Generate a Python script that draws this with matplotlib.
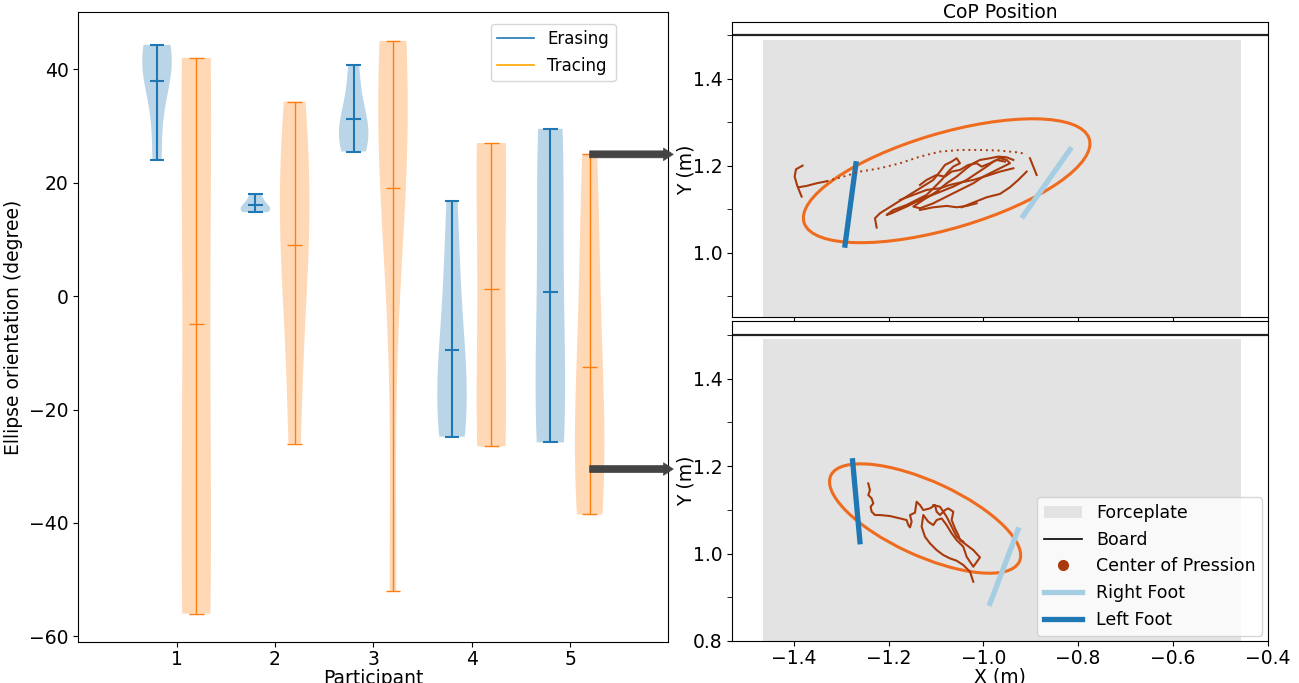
import matplotlib
matplotlib.use("Agg")
import matplotlib.pyplot as plt
from matplotlib.patches import Ellipse, Rectangle, Patch
from matplotlib.lines import Line2D

# ---------------- data: left panel (ellipse orientation per trial) ----------------
participants = [1, 2, 3, 4, 5]
erasing = [
    [24.0, 37.0, 41.0, 43.0, 44.3],
    [14.8, 15.2, 15.5, 16.5, 18.0],
    [25.5, 27.5, 29.5, 33.0, 40.8],
    [-24.8, -22.0, -18.0, -10.0, 1.1, 16.7],
    [-25.8, -24.0, -3.0, 26.8, 29.5],
]
tracing = [
    [-56.0, -48.0, 42.0, 42.0],
    [-26.0, 2.0, 12.0, 22.7, 34.3],
    [-52.0, 18.0, 30.0, 38.0, 45.0, 35.0],
    [-26.5, -22.7, 27.0, 27.0],
    [-38.5, -30.0, -22.0, 3.0, 25.0],
]
arrow_values = [25.0, -30.5]   # orientations of the two examples shown on the right

# ---------------- data: right panels (CoP, metres) ----------------
forceplate_x = [-1.465, -0.457]
forceplate_y = [0.49, 1.49]
board_y = 1.5

# top example
top_ellipse = dict(cx=-1.0775, cy=1.166, w=0.632, h=0.218, angle=18.0)
top_left_foot_x = [-1.292, -1.269]
top_left_foot_y = [1.018, 1.205]
top_right_foot_x = [-0.916, -0.817]
top_right_foot_y = [1.085, 1.238]
top_hook_x = [-1.3815, -1.3955, -1.3983, -1.3927, -1.3836]
top_hook_y = [1.2008, 1.1924, 1.1755, 1.1541, 1.1296]
top_foot_x = [-1.3906, -1.373, -1.3519, -1.3308]
top_foot_y = [1.1510, 1.1541, 1.1602, 1.1648]
top_fast_x = [-1.3308, -1.2956, -1.2605, -1.2182, -1.1760, -1.1338, -1.0916, -1.0494,
              -1.0072, -0.9650, -0.9298, -0.9087]
top_fast_y = [1.1648, 1.1755, 1.1870, 1.1947, 1.2062, 1.2215, 1.2330, 1.2368,
              1.2368, 1.2353, 1.2314, 1.2276]
top_stroke_x = [-0.9017, -0.8961, -0.8904, -0.8876]
top_stroke_y = [1.2177, 1.2023, 1.1870, 1.1793]
top_main_x = [-1.2253, -1.2288, -1.2182, -1.1901, -1.1620, -1.1338, -1.1057, -1.0916,
              -1.0811, -1.0670, -1.0564, -1.0494, -1.0635, -1.0740, -1.0881, -1.1057,
              -1.1198, -1.1409, -1.1620, -1.1901, -1.2042, -1.1936, -1.1620, -1.1338,
              -1.0987, -1.0635, -1.0353, -1.0142, -0.9931, -0.9791, -0.9650, -0.9509,
              -0.9439, -0.9579, -0.9791, -1.0002, -1.0213, -1.0494, -1.0775, -1.1057,
              -1.1338, -1.1479, -1.1268, -1.0987, -1.0775, -1.0564, -1.0353, -1.0213,
              -1.0072, -0.9861, -0.9685, -0.9509, -0.9368]
top_main_y = [1.0583, 1.0798, 1.0913, 1.1104, 1.1296, 1.1487, 1.1679, 1.1870,
              1.2023, 1.2100, 1.2177, 1.2062, 1.1985, 1.1870, 1.1679, 1.1487,
              1.1334, 1.1219, 1.1104, 1.0989, 1.0874, 1.0913, 1.1066, 1.1219,
              1.1372, 1.1525, 1.1679, 1.1832, 1.1985, 1.2100, 1.2177, 1.2138,
              1.2062, 1.1985, 1.1870, 1.1755, 1.1602, 1.1449, 1.1296, 1.1142,
              1.1027, 1.1066, 1.1219, 1.1411, 1.1602, 1.1755, 1.1947, 1.2062,
              1.2138, 1.2177, 1.2215, 1.2199, 1.2138]
top_side_x = [-1.0459, -1.0213, -0.9931, -0.9650, -0.9439, -0.9263, -0.9087]
top_side_y = [1.1050, 1.1158, 1.1280, 1.1357, 1.1510, 1.1679, 1.1870]
top_upper_x = [-1.1338, -1.1198, -1.0987, -1.0811, -1.0670, -1.0494, -1.0318, -1.0142,
               -1.0037, -0.9861, -0.9720, -0.9544]
top_upper_y = [1.1564, 1.1679, 1.1793, 1.1755, 1.1870, 1.1909, 1.2023, 1.2062,
               1.1985, 1.2062, 1.2138, 1.2100]
top_mid_x = [-1.1760, -1.1479, -1.1198, -1.0916, -1.0705, -1.0494, -1.0213, -0.9931,
             -0.9650, -0.9368]
top_mid_y = [1.1219, 1.1334, 1.1449, 1.1487, 1.1564, 1.1617, 1.1679, 1.1771,
             1.1870, 1.1947]
top_low_x = [-1.1338, -1.1057, -1.0775, -1.0564, -1.0353, -1.0142]
top_low_y = [1.0989, 1.1050, 1.1081, 1.1050, 1.1081, 1.1142]

# bottom example
bot_ellipse = dict(cx=-1.123, cy=1.080, w=0.444, h=0.168, angle=-26.8)
bot_left_foot_x = [-1.276, -1.2605]
bot_left_foot_y = [1.212, 1.027]
bot_right_foot_x = [-0.927, -0.986]
bot_right_foot_y = [1.054, 0.886]
bot_cop_x = [-1.2429, -1.2394, -1.2429, -1.2358, -1.2323, -1.2380, -1.2358, -1.2288,
             -1.2183, -1.1972, -1.1760, -1.1620, -1.1585, -1.1549, -1.1514, -1.1549,
             -1.1444, -1.1409, -1.1338, -1.1268, -1.1127, -1.1022, -1.0987, -1.0916,
             -1.0811, -1.0740, -1.0635, -1.0670, -1.0600, -1.0529, -1.0494, -1.0354,
             -1.0213, -1.0072, -1.0213, -1.0354, -1.0424, -1.0565, -1.0670, -1.0776,
             -1.0881, -1.0987, -1.1057, -1.1163, -1.1268, -1.1303, -1.1233, -1.1127,
             -1.0987, -1.0846, -1.0705, -1.0565, -1.0424, -1.0283, -1.0213]
bot_cop_y = [1.1603, 1.1451, 1.1337, 1.1260, 1.1146, 1.1070, 1.0956, 1.0880,
             1.0880, 1.0857, 1.0803, 1.0765, 1.0651, 1.0598, 1.0727, 1.0880,
             1.0933, 1.1184, 1.1108, 1.0994, 1.1032, 1.1108, 1.0956, 1.0880,
             1.0994, 1.1032, 1.0956, 1.0765, 1.0575, 1.0422, 1.0308, 1.0194,
             1.0079, 0.9912, 0.9698, 0.9927, 1.0156, 1.0308, 1.0460, 1.0651,
             1.0803, 1.0765, 1.0651, 1.0727, 1.0880, 1.0613, 1.0384, 1.0232,
             1.0079, 0.9965, 0.9889, 0.9836, 0.9737, 0.9584, 0.9356]
bot_strand_x = [-1.1057, -1.0916, -1.0846, -1.0776, -1.0705, -1.0635, -1.0565, -1.0424]
bot_strand_y = [1.1108, 1.1070, 1.0956, 1.0842, 1.0689, 1.0537, 1.0384, 1.0270]

# ---------------- styles ----------------
C_ERASE = "#1f77b4"
C_TRACE = "#ff7f0e"
C_PLATE = "#e3e3e3"
C_COP = "#a83a0c"
C_ELL = "#ef6c1f"
C_RFOOT = "#a6cee3"
C_LFOOT = "#1f78b4"
FS = 13.5

plt.rcParams["font.family"] = ["DejaVu Sans"]
plt.rcParams["font.size"] = FS

fig = plt.figure(figsize=(12.99, 6.83), dpi=100)

# ---------------- left panel ----------------
ax1 = fig.add_axes([0.0603, 0.0596, 0.4542, 0.9224])
pos_e = [p - 0.2 for p in participants]
pos_t = [p + 0.2 for p in participants]
for data, pos, col, lw in [(erasing, pos_e, C_ERASE, 1.5), (tracing, pos_t, C_TRACE, 1.0)]:
    parts = ax1.violinplot(data, positions=pos, widths=0.3, showmeans=True)
    for b in parts["bodies"]:
        b.set_facecolor(col)
        b.set_edgecolor("none")
        b.set_alpha(0.3)
    for key in ["cmeans", "cmins", "cmaxes", "cbars"]:
        parts[key].set_color(col)
        parts[key].set_linewidth(lw)
ax1.set_xlim(0, 6)
ax1.set_xticks(participants)
ax1.set_yticks([-60, -40, -20, 0, 20, 40])
ax1.tick_params(axis="x", pad=2)
ax1.set_xlabel("Participant", labelpad=0)
ax1.set_ylabel("Ellipse orientation (degree)")
handles = [Line2D([], [], color=C_ERASE, lw=1.2, label="Erasing"),
           Line2D([], [], color="orange", lw=1.2, label="Tracing")]
ax1.legend(handles=handles, loc="upper right", bbox_to_anchor=(0.911, 0.982),
           borderaxespad=0, fontsize=12, handlelength=2.2)
for v in arrow_values:
    ax1.annotate("", xy=(6.05, v), xytext=(5.2, v), xycoords="data",
                 textcoords="data", annotation_clip=False,
                 arrowprops=dict(arrowstyle="simple,head_length=0.7,head_width=0.9,tail_width=0.5",
                                 facecolor="#444444", edgecolor="#444444", lw=0.5,
                                 mutation_scale=10, shrinkA=0, shrinkB=0))

# ---------------- right panels ----------------
ax2 = fig.add_axes([0.5637, 0.5354, 0.4122, 0.4324])
ax3 = fig.add_axes([0.5637, 0.0615, 0.4122, 0.4681])

def draw_base(ax):
    ax.add_patch(Rectangle((forceplate_x[0], forceplate_y[0]),
                           forceplate_x[1] - forceplate_x[0],
                           forceplate_y[1] - forceplate_y[0],
                           facecolor=C_PLATE, edgecolor="none", zorder=0))
    ax.axhline(board_y, color="#222222", lw=1.6, zorder=1)

def draw_ellipse(ax, e):
    ax.add_patch(Ellipse((e["cx"], e["cy"]), e["w"], e["h"], angle=e["angle"],
                         facecolor="none", edgecolor=C_ELL, lw=2.2, zorder=3))

draw_base(ax2)
draw_ellipse(ax2, top_ellipse)
for xs, ys in [(top_hook_x, top_hook_y), (top_foot_x, top_foot_y),
               (top_stroke_x, top_stroke_y), (top_main_x, top_main_y),
               (top_side_x, top_side_y), (top_upper_x, top_upper_y),
               (top_mid_x, top_mid_y), (top_low_x, top_low_y)]:
    ax2.plot(xs, ys, color=C_COP, lw=1.5, zorder=4, solid_joinstyle="round")
ax2.plot(top_fast_x, top_fast_y, color=C_COP, lw=1.4, ls=(0, (1, 2)), zorder=4)
ax2.plot(top_left_foot_x, top_left_foot_y, color=C_LFOOT, lw=3.8, zorder=3.5)
ax2.plot(top_right_foot_x, top_right_foot_y, color=C_RFOOT, lw=3.8, zorder=3.5)

draw_base(ax3)
draw_ellipse(ax3, bot_ellipse)
for xs, ys in [(bot_cop_x, bot_cop_y), (bot_strand_x, bot_strand_y)]:
    ax3.plot(xs, ys, color=C_COP, lw=1.5, zorder=4, solid_joinstyle="round")
ax3.plot(bot_left_foot_x, bot_left_foot_y, color=C_LFOOT, lw=3.8, zorder=3.5)
ax3.plot(bot_right_foot_x, bot_right_foot_y, color=C_RFOOT, lw=3.8, zorder=3.5)

for ax, ylo, majors in [(ax2, 0.852, [1.0, 1.2, 1.4]), (ax3, 0.8, [0.8, 1.0, 1.2, 1.4])]:
    ax.set_xlim(-1.53, -0.4)
    ax.set_ylim(ylo, 1.531)
    ax.set_xticks([-1.4, -1.2, -1.0, -0.8, -0.6, -0.4])
    ax.set_yticks(majors)
    ax.set_yticks([0.9, 1.1, 1.3, 1.5], minor=True)
    ax.tick_params(axis="y", which="minor", length=3.5)
    ax.set_ylabel("Y (m)", labelpad=-2)
ax2.tick_params(axis="x", labelbottom=False)
ax2.set_title("CoP Position", fontsize=FS, pad=2)
ax3.tick_params(axis="x", pad=2)
ax3.set_xlabel("X (m)", labelpad=0)

leg_handles = [Patch(facecolor=C_PLATE, edgecolor="none", label="Forceplate"),
               Line2D([], [], color="black", lw=1.2, label="Board"),
               Line2D([], [], color=C_COP, marker="o", ls="none", markersize=7,
                      label="Center of Pression"),
               Line2D([], [], color=C_RFOOT, lw=3.8, label="Right Foot"),
               Line2D([], [], color=C_LFOOT, lw=3.8, label="Left Foot")]
ax3.legend(handles=leg_handles, loc="lower right", fontsize=12.5,
           borderaxespad=0.3, handlelength=2.2)

fig.savefig("out.png", dpi=100)
